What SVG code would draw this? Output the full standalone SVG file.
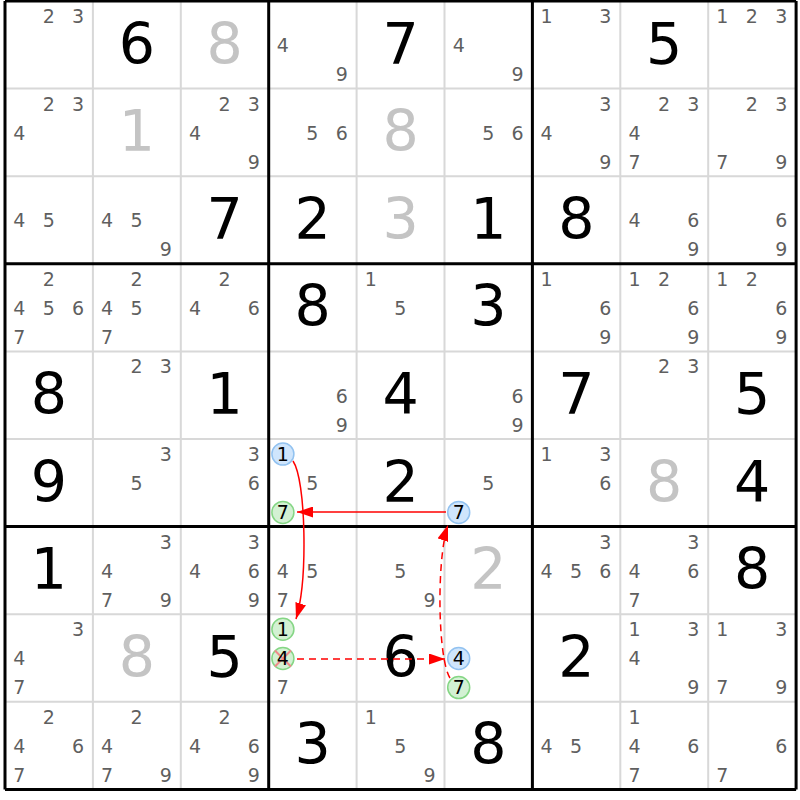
<svg xmlns="http://www.w3.org/2000/svg" width="800" height="800" viewBox="0 0 800 800">
<style>
text{font-family:"DejaVu Sans",Verdana,sans-serif;text-anchor:middle}
.c{font-size:19px;fill:#5f5f5f}
.k{font-size:19px;fill:#000}
.g{font-size:57px;fill:#000}
.s{font-size:57px;fill:#c4c4c4}
.thin{stroke:#d8d8d8;stroke-width:2}
.thick{stroke:#000;stroke-width:3}
.cb{fill:#cfe5fc;stroke:#92c2f0;stroke-width:1.5}
.cg{fill:#d3f1d3;stroke:#85d685;stroke-width:1.5}
.x{stroke:#f08a8a;stroke-width:2}
.ln{fill:none;stroke:#ff0000;stroke-width:1.5}
.d{stroke-dasharray:7,5}
</style>
<defs>
<marker id="ah" markerUnits="userSpaceOnUse" markerWidth="16" markerHeight="11" refX="16" refY="5.5" orient="auto"><path d="M0,0 L16,5.5 L0,11 z" fill="#ff0000"/></marker>
</defs>
<rect width="800" height="800" fill="#fff"/>
<g id="grid">
<path class="thin" d="M92.9,1V789.4M180.8,1V789.4M356.6,1V789.4M444.5,1V789.4M620.3,1V789.4M708.2,1V789.4M5,88.6H796.1M5,176.2H796.1M5,351.4H796.1M5,439H796.1M5,614.2H796.1M5,701.8H796.1"/>
<path class="thick" d="M5,1V789.4M268.7,1V789.4M532.4,1V789.4M796.1,1V789.4M5,1H796.1M5,263.8H796.1M5,526.6H796.1M5,789.4H796.1"/>
</g>
<g id="r0c0" transform="translate(5,1)"><text class="c" x="43.7" y="22">2</text><text class="c" x="73" y="22">3</text></g>
<g id="r0c1" transform="translate(92.9,1)"><text class="g" x="43.95" y="62.5">6</text></g>
<g id="r0c2" transform="translate(180.8,1)"><text class="s" x="43.95" y="62.5">8</text></g>
<g id="r0c3" transform="translate(268.7,1)"><text class="c" x="14.2" y="51.2">4</text><text class="c" x="73" y="80.3">9</text></g>
<g id="r0c4" transform="translate(356.6,1)"><text class="g" x="43.95" y="62.5">7</text></g>
<g id="r0c5" transform="translate(444.5,1)"><text class="c" x="14.2" y="51.2">4</text><text class="c" x="73" y="80.3">9</text></g>
<g id="r0c6" transform="translate(532.4,1)"><text class="c" x="14.2" y="22">1</text><text class="c" x="73" y="22">3</text></g>
<g id="r0c7" transform="translate(620.3,1)"><text class="g" x="43.95" y="62.5">5</text></g>
<g id="r0c8" transform="translate(708.2,1)"><text class="c" x="14.2" y="22">1</text><text class="c" x="43.7" y="22">2</text><text class="c" x="73" y="22">3</text></g>

<g id="r1c0" transform="translate(5,88.6)"><text class="c" x="43.7" y="22">2</text><text class="c" x="73" y="22">3</text><text class="c" x="14.2" y="51.2">4</text></g>
<g id="r1c1" transform="translate(92.9,88.6)"><text class="s" x="43.95" y="62.5">1</text></g>
<g id="r1c2" transform="translate(180.8,88.6)"><text class="c" x="43.7" y="22">2</text><text class="c" x="73" y="22">3</text><text class="c" x="14.2" y="51.2">4</text><text class="c" x="73" y="80.3">9</text></g>
<g id="r1c3" transform="translate(268.7,88.6)"><text class="c" x="43.7" y="51.2">5</text><text class="c" x="73" y="51.2">6</text></g>
<g id="r1c4" transform="translate(356.6,88.6)"><text class="s" x="43.95" y="62.5">8</text></g>
<g id="r1c5" transform="translate(444.5,88.6)"><text class="c" x="43.7" y="51.2">5</text><text class="c" x="73" y="51.2">6</text></g>
<g id="r1c6" transform="translate(532.4,88.6)"><text class="c" x="73" y="22">3</text><text class="c" x="14.2" y="51.2">4</text><text class="c" x="73" y="80.3">9</text></g>
<g id="r1c7" transform="translate(620.3,88.6)"><text class="c" x="43.7" y="22">2</text><text class="c" x="73" y="22">3</text><text class="c" x="14.2" y="51.2">4</text><text class="c" x="14.2" y="80.3">7</text></g>
<g id="r1c8" transform="translate(708.2,88.6)"><text class="c" x="43.7" y="22">2</text><text class="c" x="73" y="22">3</text><text class="c" x="14.2" y="80.3">7</text><text class="c" x="73" y="80.3">9</text></g>

<g id="r2c0" transform="translate(5,176.2)"><text class="c" x="14.2" y="51.2">4</text><text class="c" x="43.7" y="51.2">5</text></g>
<g id="r2c1" transform="translate(92.9,176.2)"><text class="c" x="14.2" y="51.2">4</text><text class="c" x="43.7" y="51.2">5</text><text class="c" x="73" y="80.3">9</text></g>
<g id="r2c2" transform="translate(180.8,176.2)"><text class="g" x="43.95" y="62.5">7</text></g>
<g id="r2c3" transform="translate(268.7,176.2)"><text class="g" x="43.95" y="62.5">2</text></g>
<g id="r2c4" transform="translate(356.6,176.2)"><text class="s" x="43.95" y="62.5">3</text></g>
<g id="r2c5" transform="translate(444.5,176.2)"><text class="g" x="43.95" y="62.5">1</text></g>
<g id="r2c6" transform="translate(532.4,176.2)"><text class="g" x="43.95" y="62.5">8</text></g>
<g id="r2c7" transform="translate(620.3,176.2)"><text class="c" x="14.2" y="51.2">4</text><text class="c" x="73" y="51.2">6</text><text class="c" x="73" y="80.3">9</text></g>
<g id="r2c8" transform="translate(708.2,176.2)"><text class="c" x="73" y="51.2">6</text><text class="c" x="73" y="80.3">9</text></g>

<g id="r3c0" transform="translate(5,263.8)"><text class="c" x="43.7" y="22">2</text><text class="c" x="14.2" y="51.2">4</text><text class="c" x="43.7" y="51.2">5</text><text class="c" x="73" y="51.2">6</text><text class="c" x="14.2" y="80.3">7</text></g>
<g id="r3c1" transform="translate(92.9,263.8)"><text class="c" x="43.7" y="22">2</text><text class="c" x="14.2" y="51.2">4</text><text class="c" x="43.7" y="51.2">5</text><text class="c" x="14.2" y="80.3">7</text></g>
<g id="r3c2" transform="translate(180.8,263.8)"><text class="c" x="43.7" y="22">2</text><text class="c" x="14.2" y="51.2">4</text><text class="c" x="73" y="51.2">6</text></g>
<g id="r3c3" transform="translate(268.7,263.8)"><text class="g" x="43.95" y="62.5">8</text></g>
<g id="r3c4" transform="translate(356.6,263.8)"><text class="c" x="14.2" y="22">1</text><text class="c" x="43.7" y="51.2">5</text></g>
<g id="r3c5" transform="translate(444.5,263.8)"><text class="g" x="43.95" y="62.5">3</text></g>
<g id="r3c6" transform="translate(532.4,263.8)"><text class="c" x="14.2" y="22">1</text><text class="c" x="73" y="51.2">6</text><text class="c" x="73" y="80.3">9</text></g>
<g id="r3c7" transform="translate(620.3,263.8)"><text class="c" x="14.2" y="22">1</text><text class="c" x="43.7" y="22">2</text><text class="c" x="73" y="51.2">6</text><text class="c" x="73" y="80.3">9</text></g>
<g id="r3c8" transform="translate(708.2,263.8)"><text class="c" x="14.2" y="22">1</text><text class="c" x="43.7" y="22">2</text><text class="c" x="73" y="51.2">6</text><text class="c" x="73" y="80.3">9</text></g>

<g id="r4c0" transform="translate(5,351.4)"><text class="g" x="43.95" y="62.5">8</text></g>
<g id="r4c1" transform="translate(92.9,351.4)"><text class="c" x="43.7" y="22">2</text><text class="c" x="73" y="22">3</text></g>
<g id="r4c2" transform="translate(180.8,351.4)"><text class="g" x="43.95" y="62.5">1</text></g>
<g id="r4c3" transform="translate(268.7,351.4)"><text class="c" x="73" y="51.2">6</text><text class="c" x="73" y="80.3">9</text></g>
<g id="r4c4" transform="translate(356.6,351.4)"><text class="g" x="43.95" y="62.5">4</text></g>
<g id="r4c5" transform="translate(444.5,351.4)"><text class="c" x="73" y="51.2">6</text><text class="c" x="73" y="80.3">9</text></g>
<g id="r4c6" transform="translate(532.4,351.4)"><text class="g" x="43.95" y="62.5">7</text></g>
<g id="r4c7" transform="translate(620.3,351.4)"><text class="c" x="43.7" y="22">2</text><text class="c" x="73" y="22">3</text></g>
<g id="r4c8" transform="translate(708.2,351.4)"><text class="g" x="43.95" y="62.5">5</text></g>

<g id="r5c0" transform="translate(5,439)"><text class="g" x="43.95" y="62.5">9</text></g>
<g id="r5c1" transform="translate(92.9,439)"><text class="c" x="73" y="22">3</text><text class="c" x="43.7" y="51.2">5</text></g>
<g id="r5c2" transform="translate(180.8,439)"><text class="c" x="73" y="22">3</text><text class="c" x="73" y="51.2">6</text></g>
<g id="r5c3" transform="translate(268.7,439)"><circle class="cb" cx="14.2" cy="15.1" r="11"/><text class="k" x="14.2" y="22">1</text><text class="c" x="43.7" y="51.2">5</text><circle class="cg" cx="14.2" cy="73.4" r="11"/><text class="k" x="14.2" y="80.3">7</text></g>
<g id="r5c4" transform="translate(356.6,439)"><text class="g" x="43.95" y="62.5">2</text></g>
<g id="r5c5" transform="translate(444.5,439)"><text class="c" x="43.7" y="51.2">5</text><circle class="cb" cx="14.2" cy="73.4" r="11"/><text class="k" x="14.2" y="80.3">7</text></g>
<g id="r5c6" transform="translate(532.4,439)"><text class="c" x="14.2" y="22">1</text><text class="c" x="73" y="22">3</text><text class="c" x="73" y="51.2">6</text></g>
<g id="r5c7" transform="translate(620.3,439)"><text class="s" x="43.95" y="62.5">8</text></g>
<g id="r5c8" transform="translate(708.2,439)"><text class="g" x="43.95" y="62.5">4</text></g>

<g id="r6c0" transform="translate(5,526.6)"><text class="g" x="43.95" y="62.5">1</text></g>
<g id="r6c1" transform="translate(92.9,526.6)"><text class="c" x="73" y="22">3</text><text class="c" x="14.2" y="51.2">4</text><text class="c" x="14.2" y="80.3">7</text><text class="c" x="73" y="80.3">9</text></g>
<g id="r6c2" transform="translate(180.8,526.6)"><text class="c" x="73" y="22">3</text><text class="c" x="14.2" y="51.2">4</text><text class="c" x="73" y="51.2">6</text><text class="c" x="73" y="80.3">9</text></g>
<g id="r6c3" transform="translate(268.7,526.6)"><text class="c" x="14.2" y="51.2">4</text><text class="c" x="43.7" y="51.2">5</text><text class="c" x="14.2" y="80.3">7</text></g>
<g id="r6c4" transform="translate(356.6,526.6)"><text class="c" x="43.7" y="51.2">5</text><text class="c" x="73" y="80.3">9</text></g>
<g id="r6c5" transform="translate(444.5,526.6)"><text class="s" x="43.95" y="62.5">2</text></g>
<g id="r6c6" transform="translate(532.4,526.6)"><text class="c" x="73" y="22">3</text><text class="c" x="14.2" y="51.2">4</text><text class="c" x="43.7" y="51.2">5</text><text class="c" x="73" y="51.2">6</text></g>
<g id="r6c7" transform="translate(620.3,526.6)"><text class="c" x="73" y="22">3</text><text class="c" x="14.2" y="51.2">4</text><text class="c" x="73" y="51.2">6</text><text class="c" x="14.2" y="80.3">7</text></g>
<g id="r6c8" transform="translate(708.2,526.6)"><text class="g" x="43.95" y="62.5">8</text></g>

<g id="r7c0" transform="translate(5,614.2)"><text class="c" x="73" y="22">3</text><text class="c" x="14.2" y="51.2">4</text><text class="c" x="14.2" y="80.3">7</text></g>
<g id="r7c1" transform="translate(92.9,614.2)"><text class="s" x="43.95" y="62.5">8</text></g>
<g id="r7c2" transform="translate(180.8,614.2)"><text class="g" x="43.95" y="62.5">5</text></g>
<g id="r7c3" transform="translate(268.7,614.2)"><circle class="cg" cx="14.2" cy="15.1" r="11"/><text class="k" x="14.2" y="22">1</text><circle class="cg" cx="14.2" cy="44.3" r="11"/><path class="x" d="M6.2,36.3L22.2,52.3M22.2,36.3L6.2,52.3"/><text class="k" x="14.2" y="51.2">4</text><text class="c" x="14.2" y="80.3">7</text></g>
<g id="r7c4" transform="translate(356.6,614.2)"><text class="g" x="43.95" y="62.5">6</text></g>
<g id="r7c5" transform="translate(444.5,614.2)"><circle class="cb" cx="14.2" cy="44.3" r="11"/><text class="k" x="14.2" y="51.2">4</text><circle class="cg" cx="14.2" cy="73.4" r="11"/><text class="k" x="14.2" y="80.3">7</text></g>
<g id="r7c6" transform="translate(532.4,614.2)"><text class="g" x="43.95" y="62.5">2</text></g>
<g id="r7c7" transform="translate(620.3,614.2)"><text class="c" x="14.2" y="22">1</text><text class="c" x="73" y="22">3</text><text class="c" x="14.2" y="51.2">4</text><text class="c" x="73" y="80.3">9</text></g>
<g id="r7c8" transform="translate(708.2,614.2)"><text class="c" x="14.2" y="22">1</text><text class="c" x="73" y="22">3</text><text class="c" x="14.2" y="80.3">7</text><text class="c" x="73" y="80.3">9</text></g>

<g id="r8c0" transform="translate(5,701.8)"><text class="c" x="43.7" y="22">2</text><text class="c" x="14.2" y="51.2">4</text><text class="c" x="73" y="51.2">6</text><text class="c" x="14.2" y="80.3">7</text></g>
<g id="r8c1" transform="translate(92.9,701.8)"><text class="c" x="43.7" y="22">2</text><text class="c" x="14.2" y="51.2">4</text><text class="c" x="14.2" y="80.3">7</text><text class="c" x="73" y="80.3">9</text></g>
<g id="r8c2" transform="translate(180.8,701.8)"><text class="c" x="43.7" y="22">2</text><text class="c" x="14.2" y="51.2">4</text><text class="c" x="73" y="51.2">6</text><text class="c" x="73" y="80.3">9</text></g>
<g id="r8c3" transform="translate(268.7,701.8)"><text class="g" x="43.95" y="62.5">3</text></g>
<g id="r8c4" transform="translate(356.6,701.8)"><text class="c" x="14.2" y="22">1</text><text class="c" x="43.7" y="51.2">5</text><text class="c" x="73" y="80.3">9</text></g>
<g id="r8c5" transform="translate(444.5,701.8)"><text class="g" x="43.95" y="62.5">8</text></g>
<g id="r8c6" transform="translate(532.4,701.8)"><text class="c" x="14.2" y="51.2">4</text><text class="c" x="43.7" y="51.2">5</text></g>
<g id="r8c7" transform="translate(620.3,701.8)"><text class="c" x="14.2" y="22">1</text><text class="c" x="14.2" y="51.2">4</text><text class="c" x="73" y="51.2">6</text><text class="c" x="14.2" y="80.3">7</text></g>
<g id="r8c8" transform="translate(708.2,701.8)"><text class="c" x="73" y="51.2">6</text><text class="c" x="14.2" y="80.3">7</text></g>

<g id="links">
<path class="ln" d="M293,461 C306,480 308,580 296,619" marker-end="url(#ah)"/>
<path class="ln" d="M446,512 L297,512" marker-end="url(#ah)"/>
<path class="ln d" d="M297,659 L445,659" marker-end="url(#ah)"/>
<path class="ln d" d="M450,678 C438,660 436,560 448,525" marker-end="url(#ah)"/>
</g>
</svg>
